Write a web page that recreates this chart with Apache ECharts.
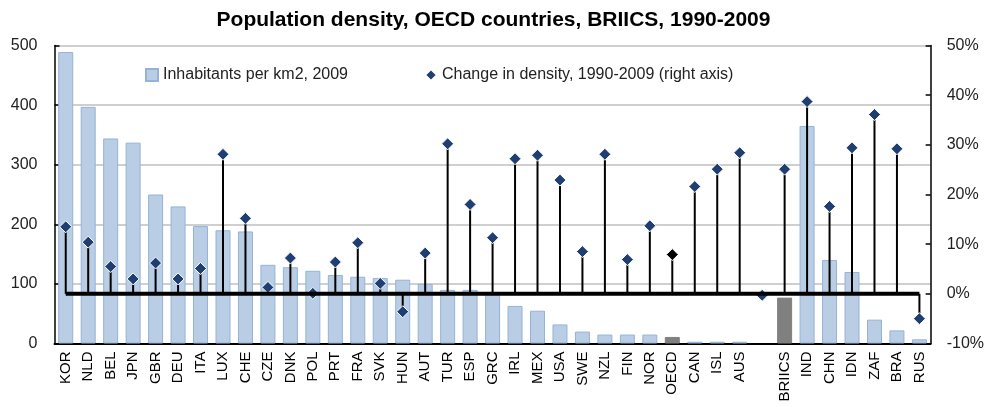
<!DOCTYPE html>
<html>
<head>
<meta charset="utf-8">
<script src="https://cdn.jsdelivr.net/npm/echarts@6/dist/echarts.min.js"></script>
<style>
html,body{margin:0;padding:0;background:#fff;}
#chart{width:987px;height:407px;}
</style>
</head>
<body>
<div id="chart"></div>
<script>
const categories = ['KOR','NLD','BEL','JPN','GBR','DEU','ITA','LUX','CHE','CZE','DNK','POL','PRT','FRA','SVK','HUN','AUT','TUR','ESP','GRC','IRL','MEX','USA','SWE','NZL','FIN','NOR','OECD','CAN','ISL','AUS','','BRIICS','IND','CHN','IDN','ZAF','BRA','RUS'];
const density2009 = [489,397,344,337,250,230,197,190,188,132,128,122,115,112,110,107,100,90,90,84,63,55,32,20,15,15,15,11,3,3,3,null,77,365,140,120,40,22,7];
const densityChange = [13.5,10.4,5.5,3.0,6.2,3.0,5.1,28.1,15.2,1.3,7.2,0.1,6.4,10.3,2.1,-3.6,8.2,30.2,18.0,11.3,27.2,27.9,22.9,8.5,28.1,6.9,13.7,7.9,21.6,25.1,28.4,-0.3,25.1,38.7,17.6,29.4,36.1,29.2,-5.0];
const leftTicks = {min:0, max:500, interval:100};
const rightTicks = {min:-10, max:50, interval:10};
const titleText = 'Population density, OECD countries, BRIICS, 1990-2009';
const barName = 'Inhabitants per km2, 2009';
const changeName = 'Change in density, 1990-2009 (right axis)';
const highlight = ['OECD','BRIICS'];

const FONT = '"Liberation Sans", Arial, sans-serif';
const barBlue = '#b9cde5', barEdge = '#95b3d7', gray = '#808080', navy = '#1f3f72';

const barData = density2009.map((v,i) => {
  if (v === null) return '-';
  if (highlight.includes(categories[i])) return {value:v, itemStyle:{color:gray, borderColor:gray}};
  return v;
});
const markerData = densityChange.map((v,i) => {
  if (categories[i] === 'OECD') return {value:v, itemStyle:{color:'#000'}};
  return v;
});
const stemData = densityChange.slice();
const zeroData = categories.map(() => 0);

const chart = echarts.init(document.getElementById('chart'), null, {renderer:'canvas'});
chart.setOption({
  animation:false,
  backgroundColor:'#fff',
  textStyle:{fontFamily:FONT},
  title:{text:titleText, left:'center', top:5, textStyle:{fontSize:21, fontWeight:'bold', color:'#000', fontFamily:FONT}},
  legend:[
    {data:[{name:barName, icon:'rect'}], left:140, top:62, itemWidth:12, itemHeight:12, itemGap:5,
     textStyle:{fontSize:16, color:'#222', fontFamily:FONT}},
    {data:[{name:changeName, icon:'diamond'}], left:419, top:62, itemWidth:12, itemHeight:12, itemGap:5,
     textStyle:{fontSize:16, color:'#222', fontFamily:FONT}}
  ],
  grid:{left:54.5, right:54.5, top:45.5, bottom:63.5, containLabel:false},
  xAxis:[
    {type:'category', data:categories, boundaryGap:true,
     axisLine:{lineStyle:{color:'#000', width:2}}, axisTick:{show:false},
     axisLabel:{rotate:90, fontSize:15, color:'#000', margin:8, interval:0, fontFamily:FONT}},
    {type:'category', data:categories, show:false}
  ],
  yAxis:[
    {type:'value', min:leftTicks.min, max:leftTicks.max, interval:leftTicks.interval, position:'left',
     axisLine:{show:true, lineStyle:{color:'#000', width:1.5}},
     axisTick:{show:true, inside:true, length:5, lineStyle:{color:'#000', width:1.5}},
     axisLabel:{fontSize:16, color:'#222', margin:17, fontFamily:FONT},
     splitLine:{show:true, lineStyle:{color:'#cfcfcf', width:2}}},
    {type:'value', min:rightTicks.min, max:rightTicks.max, interval:rightTicks.interval, position:'right',
     axisLine:{show:true, lineStyle:{color:'#000', width:1.5}},
     axisTick:{show:true, inside:true, length:5, lineStyle:{color:'#000', width:1.5}},
     axisLabel:{fontSize:16, color:'#222', margin:16, formatter:'{value}%', fontFamily:FONT},
     splitLine:{show:false}}
  ],
  series:[
    {name:barName, type:'bar', xAxisIndex:0, yAxisIndex:0, data:barData, barWidth:15,
     itemStyle:{color:barBlue, borderColor:barEdge, borderWidth:1}},
    {name:'stems', type:'bar', xAxisIndex:1, yAxisIndex:1, data:stemData, barWidth:2,
     itemStyle:{color:'#000'}, silent:true},
    {name:'zero', type:'line', xAxisIndex:0, yAxisIndex:1, data:zeroData, symbol:'none',
     lineStyle:{color:'#000', width:4}, silent:true},
    {name:changeName, type:'scatter', xAxisIndex:0, yAxisIndex:1, data:markerData, symbol:'diamond', symbolSize:12,
     itemStyle:{color:navy, borderColor:'#fff', borderWidth:1, opacity:1}}
  ]
});
</script>
</body>
</html>
